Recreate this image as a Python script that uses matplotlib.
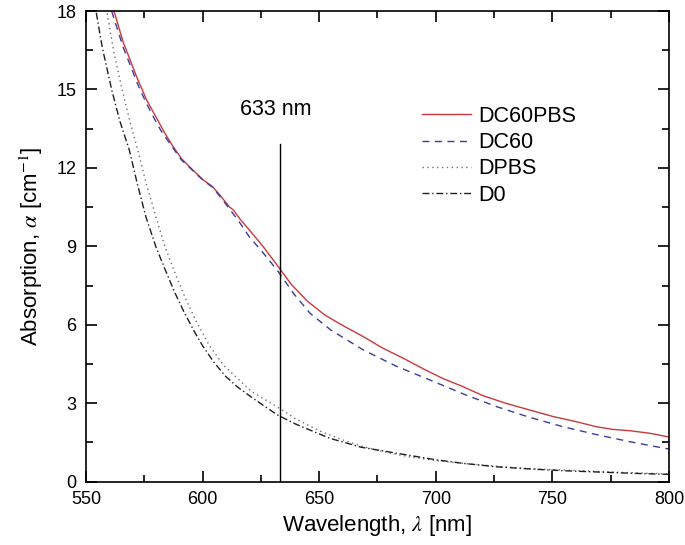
import matplotlib
matplotlib.use("Agg")
import matplotlib.pyplot as plt
import numpy as np

plt.rcParams['font.family'] = ['Liberation Sans', 'DejaVu Sans']
plt.rcParams['mathtext.fontset'] = 'stix'

# absorption spectra (wavelength nm, alpha cm^-1)
wl_dc60pbs = [560, 562, 566, 571.7, 576, 580, 584, 587.4, 591, 595.8, 600.3, 604.3,
              608, 611.4, 613.2, 616, 620, 626, 632.5, 638, 645, 652.5, 660, 668.9,
              677, 686.1, 695, 703, 711.8, 720, 730, 740.4, 750, 760, 769, 776, 783.3,
              792, 800]
a_dc60pbs = [18.6, 18.0, 16.8, 15.49, 14.6, 13.95, 13.3, 12.81, 12.35, 11.92, 11.54, 11.28,
             10.9, 10.52, 10.39, 10.05, 9.63, 8.99, 8.22, 7.55, 6.9, 6.37, 5.98, 5.55,
             5.12, 4.72, 4.3, 3.95, 3.63, 3.3, 3.0, 2.74, 2.5, 2.3, 2.1, 2.0, 1.95,
             1.85, 1.71]

wl_dc60 = [559.5, 561, 566, 573.2, 578, 582, 587, 591, 595.8, 600.3, 604.3, 608,
           611.4, 616, 620, 626, 632.5, 639, 646.1, 655, 668.9, 683, 697.5, 712,
           726.1, 740, 754.7, 769, 783.3, 792, 800]
a_dc60 = [18.6, 18.0, 16.6, 14.98, 14.1, 13.45, 12.8, 12.3, 11.9, 11.52, 11.26, 10.85,
          10.45, 9.9, 9.37, 8.75, 8.03, 7.2, 6.44, 5.8, 5.04, 4.42, 3.89, 3.35,
          2.87, 2.47, 2.10, 1.8, 1.53, 1.38, 1.25]

wl_dpbs = [558.3, 558.9, 562, 565, 568.5, 572.2, 576, 580, 584, 588.6, 592.9, 597.2,
           602.9, 609, 615.7, 621, 627.2, 632.9, 640, 650, 660, 668.9, 680, 690,
           700, 711.8, 725, 740, 754.7, 770, 785, 800]
a_dpbs = [18.6, 18.0, 16.4, 15.2, 13.9, 12.68, 11.35, 10.13, 8.95, 7.89, 6.96, 6.15,
          5.21, 4.45, 3.89, 3.45, 3.12, 2.81, 2.4, 1.95, 1.6, 1.34, 1.1, 0.93,
          0.81, 0.70, 0.6, 0.5, 0.45, 0.39, 0.34, 0.3]

wl_d0 = [553.7, 554.3, 557, 561, 564.5, 568.6, 572, 575.7, 580, 584, 588, 592,
         596, 600.0, 605, 610.0, 615, 621.5, 626, 632.2, 640, 654.6, 668, 683.2, 700,
         712, 726.1, 740, 755, 770, 785, 800]
a_d0 = [18.6, 18.0, 16.6, 15.0, 13.8, 12.68, 11.4, 10.13, 8.98, 8.1, 7.25, 6.5,
        5.82, 5.2, 4.55, 4.02, 3.62, 3.2, 2.92, 2.55, 2.2, 1.66, 1.32, 1.09, 0.84,
        0.7, 0.57, 0.49, 0.42, 0.37, 0.32, 0.28]

laser_wl = 633
laser_top = 12.9

fig = plt.figure(figsize=(6.85, 5.45), dpi=100)
ax = fig.add_axes([0.1255, 0.1161, 0.8511, 0.8637])

ax.plot(wl_dc60pbs, a_dc60pbs, color='#c8393c', lw=1.0, ls='-', label='DC60PBS')
ax.plot(wl_dc60, a_dc60, color='#3b3ba0', lw=1.0, ls=(0, (5, 4)), label='DC60')
ax.plot(wl_dpbs, a_dpbs, color='#707070', lw=1.0, ls=(0, (1, 2.5)), label='DPBS')
ax.plot(wl_d0, a_d0, color='#202020', lw=1.0, ls=(0, (5, 2, 1, 2)), label='D0')

ax.plot([laser_wl, laser_wl], [0, laser_top], color='black', lw=1.0)
ax.text(616, 14.25, '633 nm', fontsize=15.5, va='center', ha='left')

ax.set_xlim(550, 800)
ax.set_ylim(0, 18)
ax.set_xticks(np.arange(550, 801, 50))
ax.set_xticks(np.arange(575, 800, 50), minor=True)
ax.set_yticks(np.arange(0, 19, 3))
ax.set_yticks(np.arange(1.5, 18, 3), minor=True)
ax.tick_params(which='both', direction='in', top=True, right=True, labelsize=13, width=1.2)
ax.tick_params(which='major', length=8, pad=7)
ax.tick_params(which='minor', length=5)
for s in ax.spines.values():
    s.set_linewidth(1.2)

ax.set_xlabel(r'Wavelength, $\lambda$ [nm]', fontsize=16, labelpad=3)
ax.set_ylabel(r'Absorption, $\alpha$ [cm$^{-1}$]', fontsize=16, labelpad=8)

ax.legend(loc='upper left', bbox_to_anchor=(0.543, 0.84), frameon=False, fontsize=15.5,
          handlelength=2.3, handletextpad=0.3, labelspacing=0.25)

fig.savefig('out.png', dpi=100)
